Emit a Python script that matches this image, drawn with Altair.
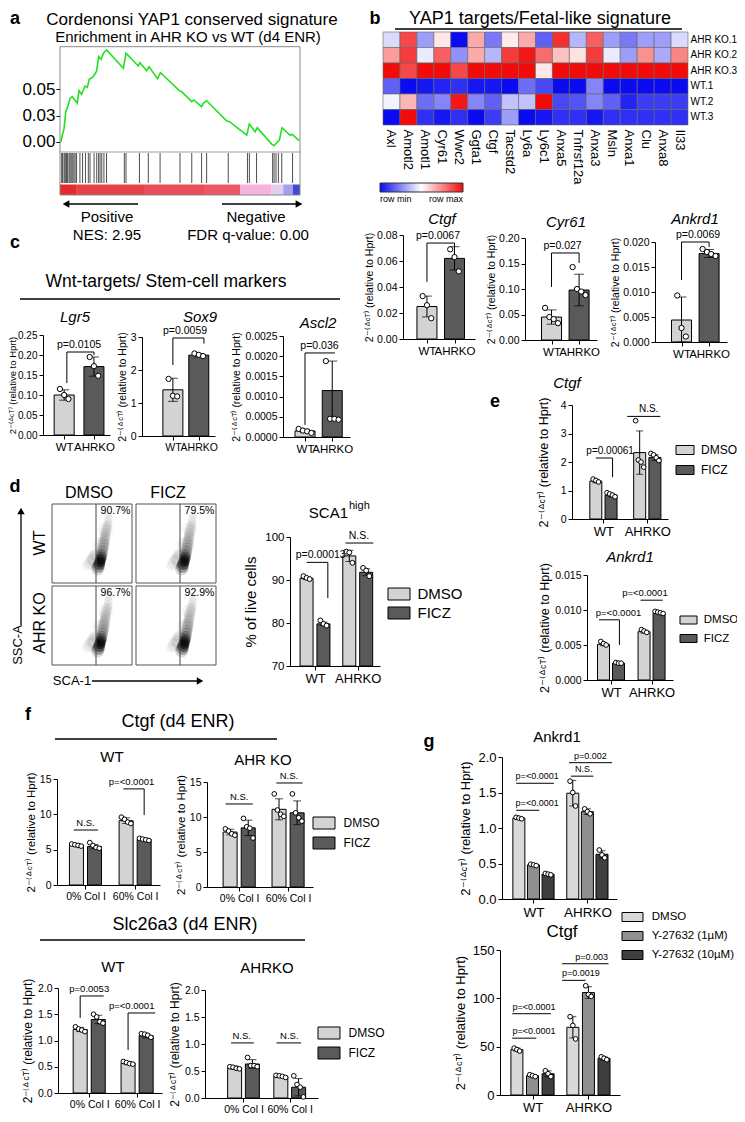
import altair as alt
import pandas as pd

W, H, M = 729, 1106, 8
FONT = "Liberation Sans"
YT = "2⁻⁽ᐞᶜᵀ⁾ (relative to Hprt)"


def px(v):
    return v - M


ONE = pd.DataFrame({"k": [0]})

# ---------------- DATA ----------------
# a: GSEA running enrichment score
gsea_rank = [0.4, 1.0, 1.7, 2.4, 3.2, 4.2, 5.1, 7.2, 7.9, 9.0, 10.4, 11.4, 12.2, 13.5, 14.6,
             15.3, 16.1, 17.1, 18.1, 19.4, 26.4, 27.5, 32.6, 33.3, 36.1, 37.1, 40.6, 41.9, 49.7,
             50.7, 54.9, 55.8, 59.0, 59.7, 61.1, 69.4, 70.6, 77.8, 78.9, 81.3, 82.2, 88.2, 89.2,
             90.3, 91.4, 92.5, 95.8, 96.8, 99.6]
gsea_es = [0.0, 0.0064, 0.0127, 0.0286, 0.0334, 0.0413, 0.0429, 0.0366, 0.0487, 0.0452, 0.0531,
           0.0518, 0.0595, 0.0614, 0.0646, 0.0677, 0.0811, 0.0786, 0.0843, 0.0875, 0.0700, 0.0843,
           0.0722, 0.0754, 0.0677, 0.0716, 0.0601, 0.0658, 0.0487, 0.0477, 0.0382, 0.0398, 0.0334,
           0.0366, 0.0391, 0.0200, 0.0191, 0.0064, 0.0169, 0.0095, 0.0134, -0.0022, -0.0038,
           -0.0010, 0.0016, 0.0134, 0.0064, 0.0070, 0.0010]
gsea_hits = [0.7, 1.1, 1.7, 2.1, 2.5, 2.8, 3.2, 3.8, 4.2, 4.7, 5.3, 5.8, 6.3, 6.9, 8.3, 9.4, 10.6,
             11.8, 12.5, 14.2, 15.3, 16.1, 16.7, 17.4, 18.3, 19.4, 26.8, 27.5, 33.1, 36.8, 41.7,
             50.0, 54.9, 59.0, 61.1, 70.1, 78.1, 78.9, 81.9, 88.6, 89.2, 90.0, 91.0, 92.4, 96.9]
strip_start = [0, 7, 35, 60, 75, 88, 93, 97]
strip_end = [7, 35, 60, 75, 88, 93, 97, 100]
strip_val = [1.0, 0.9, 0.85, 0.8, 0.4, -0.1, -0.5, -0.9]

# b: heatmap
hm_genes = ["Axl", "Amotl2", "Amotl1", "Cyr61", "Wwc2", "Ggta1", "Ctgf", "Tacstd2", "Ly6a",
            "Ly6c1", "Anxa5", "Tnfrsf12a", "Anxa3", "Msln", "Anxa1", "Clu", "Anxa8", "Il33"]
hm_samples = ["AHR KO.1", "AHR KO.2", "AHR KO.3", "WT.1", "WT.2", "WT.3"]
hm_values = [
    [-0.15, 0.75, -0.4, 0.1, -1, 0.35, -0.55, 0.08, 0.35, -0.65, 0.85, -0.3, 0.65, -0.4, -0.55, -0.4, -0.4, -0.15],
    [0.4, 0.8, -0.08, 0.65, -0.45, 0.35, -0.3, 0.8, 0.95, 0.6, 0.25, 0.12, 0.8, -0.08, -0.4, 0.45, -0.35, 0.5],
    [1, 0.75, 1, 1, 0.75, 1, 1, 1, 1, 0.1, 1, 1, 1, 1, 1, 1, 1, 1],
    [-0.65, -1, -0.95, -0.9, -0.85, -0.95, -0.95, -1, -0.6, -0.75, -1, -1, -0.5, -1, -1, -1, -1, -1],
    [-0.05, 0.3, -0.6, -0.5, 0.95, -0.5, -0.65, -0.25, -0.25, 1, -0.75, -0.7, -0.5, -0.65, -0.9, -0.8, -0.8, -0.8],
    [-1, 1, -0.85, -0.95, -0.85, -1, -0.8, -0.4, -1, -0.95, -0.85, -0.85, -0.95, -0.85, -0.85, -0.85, -0.85, -0.85],
]

geno = ["WT", "AHRKO"]
single = ["all"]
trt2 = ["DMSO", "FICZ"]
trt3 = ["DMSO", "Y-27632 (1µM)", "Y-27632 (10µM)"]
col_groups = ["0% Col I", "60% Col I"]

# b qPCR
b_ctgf_mean = [[0.025], [0.062]]
b_ctgf_sd = [[0.008], [0.009]]
b_ctgf_pts = [[[0.033, 0.026, 0.016]], [[0.069, 0.063, 0.052]]]
b_cyr61_mean = [[0.045], [0.098]]
b_cyr61_sd = [[0.014], [0.031]]
b_cyr61_pts = [[[0.063, 0.045, 0.041, 0.033]], [[0.143, 0.100, 0.095, 0.088]]]
b_ankrd1_mean = [[0.0044], [0.0177]]
b_ankrd1_sd = [[0.0046], [0.0008]]
b_ankrd1_pts = [[[0.0093, 0.0028, 0.0011]], [[0.0186, 0.0180, 0.0176, 0.0172]]]

# c qPCR
c_lgr5_mean = [[0.100], [0.171]]
c_lgr5_sd = [[0.013], [0.024]]
c_lgr5_pts = [[[0.115, 0.100, 0.090]], [[0.195, 0.172, 0.148]]]
c_sox9_mean = [[1.40], [2.45]]
c_sox9_sd = [[0.35], [0.05]]
c_sox9_pts = [[[1.73, 1.22, 1.20]], [[2.50, 2.46, 2.42]]]
c_ascl2_mean = [[0.00015], [0.00115]]
c_ascl2_sd = [[0.00004], [0.00073]]
c_ascl2_pts = [[[0.00020, 0.00016, 0.00014, 0.00010]], [[0.00188, 0.00045, 0.00045, 0.00043]]]

# d flow + SCA1 high
flow_pct = ["90.7%", "79.5%", "96.7%", "92.9%"]
blob_sca = [57, 58, 59, 60, 61, 61.5, 62, 63, 63.5, 64, 65, 66, 66.5, 67, 68, 69, 70, 70.5, 71, 48, 44, 52, 54,
            54, 62, 67]
blob_ssc = [18, 21, 24, 27, 30, 33, 36, 40, 44, 48, 52, 56, 60, 64, 68, 72, 76, 81, 86, 26, 22, 30, 36,
            30, 48, 68]
blob_spread = [0.45, 0.4, 0.35, 0.3, 0.3, 0.32, 0.34, 0.34, 0.34, 0.33, 0.32, 0.3, 0.29, 0.28, 0.26, 0.24,
               0.22, 0.2, 0.16, 0.45, 0.3, 0.4, 0.35, 0.8, 0.75, 0.55]
blob_density = [0.15, 0.3, 0.45, 0.55, 0.5, 0.35, 0.25, 0.18, 0.15, 0.13, 0.12, 0.11, 0.1, 0.09, 0.08, 0.07,
                0.06, 0.05, 0.05, 0.06, 0.04, 0.08, 0.07, 0.05, 0.05, 0.04]
sca_mean = [[90.4, 79.8], [95.6, 91.8]]
sca_sd = [[0.3, 0.4], [1.3, 0.8]]
sca_pts = [[[90.9, 90.5, 90.2], [80.6, 79.8, 79.4]], [[96.6, 96.4, 94.0], [92.8, 92.2, 90.9]]]

# e
e_ctgf_mean = [[1.33, 0.84], [2.33, 2.16]]
e_ctgf_sd = [[0.06, 0.06], [0.76, 0.10]]
e_ctgf_pts = [[[1.40, 1.35, 1.30], [0.92, 0.88, 0.84, 0.78]], [[3.45, 2.07, 2.00, 1.82], [2.30, 2.25, 2.15, 2.05]]]
e_ankrd1_mean = [[0.0051, 0.0024], [0.0069, 0.0096]]
e_ankrd1_sd = [[0.0002, 0.0001], [0.0002, 0.0001]]
e_ankrd1_pts = [[[0.0055, 0.0052, 0.0050], [0.0025, 0.0024, 0.0024]], [[0.0072, 0.0070, 0.0068], [0.0098, 0.0097, 0.0096, 0.0095]]]

# f
f_ctgf_wt_mean = [[5.65, 5.45], [9.10, 6.45]]
f_ctgf_wt_sd = [[0.15, 0.30], [0.40, 0.15]]
f_ctgf_wt_pts = [[[5.8, 5.7, 5.6, 5.5], [6.0, 5.6, 5.3, 5.2]], [[9.6, 9.3, 8.9, 8.7], [6.6, 6.5, 6.4, 6.3]]]
f_ctgf_ko_mean = [[7.85, 8.45], [11.1, 10.6]]
f_ctgf_ko_sd = [[0.40, 1.10], [1.50, 1.70]]
f_ctgf_ko_pts = [[[8.3, 8.0, 7.6, 7.4], [9.8, 8.6, 8.4, 7.0]], [[13.3, 11.0, 10.4, 10.1], [13.3, 10.6, 9.9, 9.4]]]
f_slc_wt_mean = [[1.21, 1.40], [0.57, 1.09]]
f_slc_wt_sd = [[0.04, 0.08], [0.03, 0.04]]
f_slc_wt_pts = [[[1.26, 1.22, 1.20, 1.17], [1.50, 1.45, 1.36, 1.33]], [[0.60, 0.58, 0.56, 0.55], [1.13, 1.12, 1.10, 1.06]]]
f_slc_ko_mean = [[0.56, 0.63], [0.40, 0.20]]
f_slc_ko_sd = [[0.03, 0.08], [0.02, 0.16]]
f_slc_ko_pts = [[[0.58, 0.57, 0.55, 0.54], [0.75, 0.60, 0.60, 0.58]], [[0.42, 0.41, 0.40, 0.38], [0.41, 0.25, 0.20, 0.02]]]

# g
g_ankrd1_mean = [[1.14, 0.48, 0.35], [1.49, 1.23, 0.63]]
g_ankrd1_sd = [[0.015, 0.01, 0.01], [0.18, 0.04, 0.05]]
g_ankrd1_pts = [[[1.15, 1.14, 1.13], [0.49, 0.48, 0.47], [0.36, 0.35, 0.34]],
                [[1.66, 1.50, 1.31], [1.27, 1.23, 1.20], [0.69, 0.62, 0.58]]]
g_ctgf_mean = [[47, 20, 22], [70, 106, 38]]
g_ctgf_sd = [[1.5, 1.0, 3.0], [11, 6, 1.5]]
g_ctgf_pts = [[[48.5, 47, 45.5], [21, 20, 19], [25, 22, 19]],
              [[81, 72, 58], [113, 104, 102], [39.5, 38, 36.5]]]

# significance brackets: (x1 slot, x2 slot, level, left-leg end, right-leg end, label, label slot)
br_b_ctgf = [(0, 1, 0.0738, 0.044, 0.0677, "p=0.0067", 0.4)]
br_b_cyr61 = [(0, 1, 0.1706, 0.104, 0.151, "p=0.027", 0.4)]
br_b_ankrd1 = [(0, 1, 0.0200, 0.0124, 0.019, "p=0.0069", 0.6)]
br_c_lgr5 = [(0.09, 1, 0.2075, 0.13, 0.20, "p=0.0105", 0.5)]
br_c_sox9 = [(0, 1.2, 2.97, 2.15, 2.8, "p=0.0059", 0.47)]
br_c_ascl2 = [(0, 1.1, 0.00208, 0.0003, None, "p=0.036", 0.53)]
br_sca = [(0, 1.26, 94.1, None, 85.8, "p=0.00013", 0.84), (2.3, 3.95, 98.6, None, None, "N.S.", 3.1)]
br_e_ctgf = [(0, 1.1, 2.14, None, 1.47, "p=0.00061", 0.94), (2.06, 4.24, 3.6, None, None, "N.S.", 3.47)]
br_e_ankrd1 = [(-0.3, 1.06, 0.0086, None, 0.005, "p=<0.0001", 1.0),
               (2.47, 3.94, 0.0114, None, None, "p=<0.0001", 2.76)]
br_f_ctgf_wt = [(-0.15, 1.2, 7.78, None, None, "N.S.", 0.5), (2.6, 3.75, 13.6, None, 9.9, "p=<0.0001", 3.05)]
br_f_ctgf_ko = [(-0.25, 1.25, 11.86, None, None, "N.S.", 0.5), (2.55, 4.0, 14.86, None, None, "N.S.", 3.25)]
br_f_slc_wt = [(0, 1.3, 1.848, 1.43, None, "p=0.0053", 0.5), (2.65, 4.15, 1.524, 0.82, None, "p=<0.0001", 2.85)]
br_f_slc_ko = [(-0.2, 1.08, 1.02, None, None, "N.S.", 0.4), (2.36, 3.74, 1.02, None, None, "N.S.", 3.08)]
br_g_ankrd1 = [(-0.19, 2.4, 1.63, None, None, "p=<0.0001", 1.25), (-0.19, 1.4, 1.25, None, None, "p=<0.0001", 1.25),
               (3.44, 6.38, 1.92, None, None, "p=0.002", 4.9), (3.56, 5.1, 1.73, None, None, "N.S.", 4.44)]
br_g_ctgf = [(-0.3, 2.18, 84.1, None, None, "p=<0.0001", 1.1), (-0.3, 1.24, 58.8, None, None, "p=<0.0001", 1.1),
             (2.9, 5.88, 135.8, None, None, "p=0.003", 4.8), (2.9, 4.4, 118.6, None, None, "p=0.0019", 4.1)]

LIGHT, DARK = "#d3d3d3", "#5a5a5a"

layers = []


# ---------------- helpers ----------------
def T(s, x, y, size=12, weight="normal", style="normal", angle=0, align="center", baseline="middle"):
    kw = dict(text=s, font=FONT, fontSize=size, fontWeight=weight, fontStyle=style,
              align=align, baseline=baseline, color="black")
    if angle:
        kw["angle"] = angle
    layers.append(alt.Chart(ONE).mark_text(**kw).encode(x=alt.value(px(x)), y=alt.value(px(y))))


def S(x1, y1, x2, y2, w=1.0, color="black"):
    layers.append(alt.Chart(ONE).mark_rule(color=color, strokeWidth=w).encode(
        x=alt.value(px(x1)), y=alt.value(px(y1)), x2=alt.value(px(x2)), y2=alt.value(px(y2))))


def HEAD(x, y, shape, size=55):
    layers.append(alt.Chart(ONE).mark_point(shape=shape, filled=True, color="black", size=size, opacity=1)
                  .encode(x=alt.value(px(x)), y=alt.value(px(y))))


def legend_for(left, cy, w, h, font, spacing):
    entry = max(h + 1, font)
    hw = w / h
    return alt.Legend(orient="none", legendX=px(left), legendY=px(cy - entry / 2), title=None,
                      symbolType=f"M{-hw:.3f},-1H{hw:.3f}V1H{-hw:.3f}Z", symbolSize=h * h,
                      symbolOffset=w / 2 - entry / 2, labelOffset=w - entry + 4,
                      symbolStrokeColor="black", symbolStrokeWidth=1, symbolOpacity=1,
                      labelFontSize=font, labelFont=FONT, labelColor="black",
                      rowPadding=spacing - entry, padding=0)


def bar_panel(groups, treats, colors, means, sds, pts, brackets, L, by="treat", leg=None):
    nT = len(treats)
    step = nT + L["gap"]
    y_lo = L["ydom"][0]
    rows, prow = [], []
    for gi, g in enumerate(groups):
        for ti, t in enumerate(treats):
            s = gi * step + ti
            m = means[gi][ti]
            sd = sds[gi][ti]
            rows.append({"slot": s, "mean": m, "lo": max(m - sd, y_lo), "hi": m + sd,
                         "key": g if by == "group" else t})
            vals = pts[gi][ti]
            n = len(vals)
            for i, v in enumerate(vals):
                prow.append({"slot": s + (i - (n - 1) / 2) * L["jit"] / L["d"], "v": v})
    bdf = pd.DataFrame(rows)
    pdf = pd.DataFrame(prow)
    keys = groups if by == "group" else treats
    xs = alt.Scale(domain=[(L["xa"] - L["c0"]) / L["d"], (L["xb"] - L["c0"]) / L["d"]],
                   range=[px(L["xa"]), px(L["xb"])], nice=False, zero=False)
    ys = alt.Scale(domain=L["ydom"], range=[px(L["y0"]), px(L["y1"])], nice=False, zero=False)
    centers = [gi * step + (nT - 1) / 2 for gi in range(len(groups))]
    mid = (centers[0] + centers[1]) / 2
    expr = f"datum.value < {mid} ? '{groups[0]}' : '{groups[1]}'"
    xaxis = alt.Axis(orient="bottom", offset=px(L["y0"]) - H, values=centers, labelExpr=expr, title=None,
                     tickSize=4, labelFontSize=L["xfs"], labelPadding=2, labelFlush=False,
                     labelOverlap=False, grid=False)
    yaxis = alt.Axis(orient="left", offset=-px(L["xa"]), values=L["ticks"], format=L["fmt"],
                     title=L.get("ytitle", YT), titleFontSize=L["tfs"], titlePadding=L.get("tp", 3),
                     titleFontWeight="normal", labelFontSize=L["yfs"], tickSize=4, labelPadding=2,
                     labelOverlap=False, labelFlush=False, grid=False)
    # secondary layers carry no axis spec: they merge into the explicit axes of the bar layer
    bx = alt.X("slot:Q", scale=xs)
    bars = alt.Chart(bdf).mark_bar(orient="vertical", width=L["bw"], stroke="black", strokeWidth=1).encode(
        x=alt.X("slot:Q", scale=xs, axis=xaxis),
        y=alt.Y("mean:Q", scale=ys, axis=yaxis),
        y2=alt.datum(y_lo),
        color=alt.Color("key:N", scale=alt.Scale(domain=keys, range=colors),
                        legend=leg if leg is not None else None))
    err = alt.Chart(bdf).mark_rule(color="black", strokeWidth=1).encode(
        x=bx, y=alt.Y("lo:Q", scale=ys), y2="hi:Q")
    caps = alt.Chart(bdf).transform_fold(["lo", "hi"], as_=["w", "cv"]).mark_tick(
        orient="horizontal", size=L["cap"], thickness=1, color="black").encode(
        x=bx, y=alt.Y("cv:Q", scale=ys))
    dots = alt.Chart(pdf).mark_circle(size=L["ps"], fill="white", stroke="black", strokeWidth=1,
                                      opacity=1).encode(x=bx, y=alt.Y("v:Q", scale=ys))
    parts = [bars, err, caps, dots]
    brows, legs = [], []
    for (x1, x2, yv, ll, rl, lab, tx) in brackets:
        brows.append({"x1": x1, "x2": x2, "y": yv, "lab": lab, "tx": tx})
        if ll is not None:
            legs.append({"x": x1, "y": yv, "y2": ll})
        if rl is not None:
            legs.append({"x": x2, "y": yv, "y2": rl})
    brdf = pd.DataFrame(brows)
    parts.append(alt.Chart(brdf).mark_rule(color="black", strokeWidth=1).encode(
        x=alt.X("x1:Q", scale=xs), x2="x2:Q", y=alt.Y("y:Q", scale=ys)))
    if legs:
        parts.append(alt.Chart(pd.DataFrame(legs)).mark_rule(color="black", strokeWidth=1).encode(
            x=alt.X("x:Q", scale=xs), y=alt.Y("y:Q", scale=ys), y2="y2:Q"))
    parts.append(alt.Chart(brdf).mark_text(font=FONT, fontSize=L["pfs"], baseline="bottom", dy=-2,
                                           color="black").encode(
        x=alt.X("tx:Q", scale=xs), y=alt.Y("y:Q", scale=ys), text="lab:N"))
    layers.append(alt.layer(*parts))


# ---------------- panel a ----------------
a_xs = alt.Scale(domain=[0, 100], range=[px(60), px(300)], nice=False, zero=False)
a_ys = alt.Scale(domain=[-0.0095, 0.0906], range=[px(151.7), px(46.7)], nice=False, zero=False)
gdf = pd.DataFrame({"r": gsea_rank, "es": gsea_es})
hdf = pd.DataFrame({"h": gsea_hits})
sdf = pd.DataFrame({"s": strip_start, "e": strip_end, "v": strip_val})
a_line = alt.Chart(gdf).mark_line(color="#22e022", strokeWidth=1.6).encode(
    x=alt.X("r:Q", scale=a_xs, axis=None),
    y=alt.Y("es:Q", scale=a_ys, axis=alt.Axis(orient="left", offset=-px(60), values=[0, 0.025, 0.05],
                                              format=".2f", labelFontSize=17, tickSize=4, domain=False,
                                              title=None, grid=False, labelOverlap=False, labelPadding=1)))
a_hits = alt.Chart(hdf).mark_rule(color="#222", strokeWidth=0.8).encode(
    x=alt.X("h:Q", scale=a_xs, axis=None), y=alt.value(px(153)), y2=alt.value(px(183)))
a_strip = alt.Chart(sdf).mark_rect().encode(
    x=alt.X("s:Q", scale=a_xs, axis=None), x2="e:Q", y=alt.value(px(184.5)), y2=alt.value(px(195)),
    color=alt.Color("v:Q", scale=alt.Scale(domain=[-1, -0.4, 0, 0.4, 1],
                                           range=["#3030d0", "#b8b8f0", "#f4d4ee", "#f6b4dc", "#e42a2a"],
                                           interpolate="rgb"), legend=None))
layers.append(alt.layer(a_line, a_hits, a_strip))
layers.append(alt.Chart(ONE).mark_rect(fill="transparent", stroke="#888", strokeWidth=1).encode(
    x=alt.value(px(60)), x2=alt.value(px(300)), y=alt.value(px(46.7)), y2=alt.value(px(195))))
S(60, 152, 300, 152, 0.8, "#888")
T("a", 15, 19, 18, weight="bold")
T("Cordenonsi YAP1 conserved signature", 192, 20, 17)
T("Enrichment in AHR KO vs WT (d4 ENR)", 188, 37, 15)
S(68, 204, 138, 204, 1.5)
HEAD(66, 204, "triangle-left", 60)
S(222, 204, 296, 204, 1.5)
HEAD(299, 204, "triangle-right", 60)
T("Positive", 107, 217, 15)
T("NES: 2.95", 107, 235, 15)
T("Negative", 256, 217, 15)
T("FDR q-value: 0.00", 248, 235, 15)

# ---------------- panel b heatmap ----------------
hm_rows = []
for si, s in enumerate(hm_samples):
    for gi, g in enumerate(hm_genes):
        hm_rows.append({"gene": g, "sample": s, "v": hm_values[si][gi]})
hm = alt.Chart(pd.DataFrame(hm_rows)).mark_rect(stroke="#666", strokeWidth=0.6).encode(
    x=alt.X("gene:N", sort=hm_genes,
            scale=alt.Scale(domain=hm_genes, range=[px(383), px(688)], paddingInner=0, paddingOuter=0),
            axis=alt.Axis(orient="bottom", offset=px(125) - H, labelAngle=90, labelAlign="left",
                          labelBaseline="middle", ticks=False, domain=False, labelFontSize=13,
                          labelPadding=4, title=None, grid=False, labelOverlap=False)),
    y=alt.Y("sample:N", sort=hm_samples,
            scale=alt.Scale(domain=hm_samples, range=[px(32), px(125)], paddingInner=0, paddingOuter=0),
            axis=alt.Axis(orient="right", offset=px(688) - W, ticks=False, domain=False, labelFontSize=10,
                          labelPadding=2, title=None, grid=False, labelOverlap=False)),
    color=alt.Color("v:Q", scale=alt.Scale(domain=[-1, 0, 1], range=["#0b0bf2", "#ffffff", "#f20b0b"],
                                           interpolate="rgb"),
                    legend=alt.Legend(orient="none", legendX=px(380), legendY=px(183), direction="horizontal",
                                      gradientLength=83, gradientThickness=9, title=None, values=[-1, 1],
                                      labelExpr="datum.value < 0 ? 'row min' : 'row max'",
                                      labelFontSize=9, labelFont=FONT, gradientStrokeColor="#333",
                                      gradientStrokeWidth=1, labelOffset=3, padding=0)))
layers.append(hm)
T("b", 375, 19, 18, weight="bold")
T("YAP1 targets/Fetal-like signature", 540, 19, 18)
S(395, 29, 682, 29, 1.5)

# ---------------- panel b qPCR ----------------
base_b = dict(d=32, gap=0, bw=20, cap=10, jit=5, ps=28, xfs=11.5, yfs=10.5, tfs=10.5, pfs=10.5, tp=2)
bar_panel(geno, single, [LIGHT, DARK], b_ctgf_mean, b_ctgf_sd, b_ctgf_pts, br_b_ctgf,
          dict(base_b, c0=425, xa=403, xb=475, ydom=[0, 0.08], y0=339, y1=235,
               ticks=[0, 0.02, 0.04, 0.06, 0.08], fmt=".2f"), by="group")
bar_panel(geno, single, [LIGHT, DARK], b_cyr61_mean, b_cyr61_sd, b_cyr61_pts, br_b_cyr61,
          dict(base_b, c0=550, xa=525, xb=597, ydom=[0, 0.2], y0=340, y1=238,
               ticks=[0, 0.05, 0.1, 0.15, 0.2], fmt=".2f"), by="group")
bar_panel(geno, single, [LIGHT, DARK], b_ankrd1_mean, b_ankrd1_sd, b_ankrd1_pts, br_b_ankrd1,
          dict(base_b, c0=680, xa=655, xb=727, ydom=[0, 0.02], y0=342, y1=242,
               ticks=[0, 0.005, 0.01, 0.015, 0.02], fmt=".3f"), by="group")
T("Ctgf", 442, 219, 15, style="italic")
T("Cyr61", 566, 222, 15, style="italic")
T("Ankrd1", 695, 219, 15, style="italic")

# ---------------- panel c ----------------
T("c", 15, 243, 18, weight="bold")
T("Wnt-targets/ Stem-cell markers", 166, 282, 17.5)
S(20, 299, 340, 299, 1.5)
base_c = dict(gap=0, bw=20, cap=10, jit=5, ps=28, xfs=11.5, yfs=10.5, tfs=10.5, pfs=10.5, tp=3)
bar_panel(geno, single, [LIGHT, DARK], c_lgr5_mean, c_lgr5_sd, c_lgr5_pts, br_c_lgr5,
          dict(base_c, c0=62, d=35, xa=43, xb=110, ydom=[0, 0.25], y0=435, y1=335,
               ticks=[0, 0.05, 0.1, 0.15, 0.2, 0.25], fmt=".2f", yfs=10, tfs=9.5, tp=0), by="group")
bar_panel(geno, single, [LIGHT, DARK], c_sox9_mean, c_sox9_sd, c_sox9_pts, br_c_sox9,
          dict(base_c, c0=172, d=30, xa=142, xb=215, ydom=[0, 3], y0=436, y1=337,
               ticks=[0, 1, 2, 3], fmt="d", xfs=10.5), by="group")
bar_panel(geno, single, [LIGHT, DARK], c_ascl2_mean, c_ascl2_sd, c_ascl2_pts, br_c_ascl2,
          dict(base_c, c0=303, d=32, xa=283, xb=350, ydom=[0, 0.0025], y0=437, y1=336,
               ticks=[0, 0.0005, 0.001, 0.0015, 0.002, 0.0025], fmt=".4f"), by="group")
T("Lgr5", 75, 317, 15, style="italic")
T("Sox9", 200, 317, 15, style="italic")
T("Ascl2", 318, 323, 15, style="italic")

# ---------------- panel d flow ----------------
T("d", 15, 487, 18, weight="bold")
T("DMSO", 89, 493, 16)
T("FICZ", 168, 493, 16)
T("WT", 40, 543, 16, angle=270)
T("AHR KO", 40, 623, 16, angle=270)
T("SSC-A", 18, 645, 13, angle=270)
S(21, 625, 21, 514, 1.3)
HEAD(21, 511, "triangle-up", 55)
T("SCA-1", 72, 681, 13)
S(92, 681, 197, 681, 1.3)
HEAD(200, 681, "triangle-right", 55)

boxes = [(52, 504, 132, 583), (136, 504, 216, 583), (52, 586, 132, 665), (136, 586, 216, 665)]
blob = pd.DataFrame({"sca": blob_sca, "ssc": blob_ssc, "w": blob_spread, "dens": blob_density})
for bi, (x0, y0, x1, y1) in enumerate(boxes):
    fxs = alt.Scale(domain=[0, 100], range=[px(x0), px(x1)], nice=False, zero=False)
    fys = alt.Scale(domain=[0, 100], range=[px(y1), px(y0)], nice=False, zero=False)
    fdf = pd.DataFrame({"lo": [0], "hi": [100], "gate": [55], "tx": [98], "ty": [97], "pct": [flow_pct[bi]]})
    fb = alt.Chart(blob).mark_circle(color="black").encode(
        x=alt.X("sca:Q", scale=fxs, axis=None), y=alt.Y("ssc:Q", scale=fys, axis=None),
        size=alt.Size("w:Q", scale=alt.Scale(domain=[0, 1], range=[0, 400]), legend=None),
        opacity=alt.Opacity("dens:Q", scale=alt.Scale(domain=[0, 1], range=[0, 1]), legend=None))
    fr = alt.Chart(fdf).mark_rect(fill="transparent", stroke="#555", strokeWidth=1).encode(
        x=alt.X("lo:Q", scale=fxs, axis=None), x2="hi:Q", y=alt.Y("lo:Q", scale=fys, axis=None), y2="hi:Q")
    fg = alt.Chart(fdf).mark_rule(color="#444", strokeWidth=1).encode(
        x=alt.X("gate:Q", scale=fxs, axis=None), y=alt.Y("lo:Q", scale=fys, axis=None), y2="hi:Q")
    ft = alt.Chart(fdf).mark_text(font=FONT, fontSize=10.5, align="right", baseline="top", color="black").encode(
        x=alt.X("tx:Q", scale=fxs, axis=None), y=alt.Y("ty:Q", scale=fys, axis=None), text="pct:N")
    layers.append(alt.layer(fb, fr, fg, ft))

bar_panel(geno, trt2, [LIGHT, DARK], sca_mean, sca_sd, sca_pts, br_sca,
          dict(c0=303, d=19, gap=0.53, xa=290, xb=380, ydom=[70, 100], y0=666, y1=537,
               ticks=[70, 80, 90, 100], fmt="d", bw=13, cap=8, jit=3.5, ps=24, xfs=13, yfs=11.5,
               tfs=15, pfs=10.5, tp=6, ytitle="% of live cells"),
          leg=legend_for(388, 594, 22, 12, 15, 17))
T("SCA1", 348, 518, 15, align="right", baseline="alphabetic")
T("high", 349, 509, 11, align="left", baseline="alphabetic")

# ---------------- panel e ----------------
T("e", 495, 402, 18, weight="bold")
T("Ctgf", 567, 383, 15, style="italic")
T("Ankrd1", 630, 557, 15, style="italic")
bar_panel(geno, trt2, [LIGHT, DARK], e_ctgf_mean, e_ctgf_sd, e_ctgf_pts, br_e_ctgf,
          dict(c0=593, d=17, gap=0.88, xa=572, xb=668, ydom=[0, 4], y0=519, y1=405,
               ticks=[0, 1, 2, 3, 4], fmt="d", bw=12, cap=7, jit=3, ps=22, xfs=13, yfs=10.5,
               tfs=12.5, pfs=10, tp=10),
          leg=legend_for(676, 450, 18, 9, 12, 18))
bar_panel(geno, trt2, [LIGHT, DARK], e_ankrd1_mean, e_ankrd1_sd, e_ankrd1_pts, br_e_ankrd1,
          dict(c0=600, d=17, gap=0.7, xa=587, xb=673, ydom=[0, 0.015], y0=680, y1=575,
               ticks=[0, 0.005, 0.01, 0.015], fmt=".3f", bw=12, cap=7, jit=3, ps=22, xfs=13, yfs=10.5,
               tfs=12.5, pfs=9.5, tp=3),
          leg=legend_for(680, 620, 17, 8, 11.5, 17))

# ---------------- panel f ----------------
T("f", 28, 715, 18, weight="bold")
T("Ctgf (d4 ENR)", 178, 722, 18)
S(55, 739, 277, 739, 1.5)
T("WT", 112, 757, 15)
T("AHR KO", 263, 760, 15)
T("Slc26a3 (d4 ENR)", 185, 925, 18)
S(40, 940, 305, 940, 1.5)
T("WT", 113, 967, 15)
T("AHRKO", 267, 968, 15)
base_f = dict(d=20, bw=14, cap=8, jit=3.5, ps=22, xfs=10.5, yfs=10.5, tfs=11.5, pfs=9.5, tp=3)
bar_panel(col_groups, trt2, [LIGHT, DARK], f_ctgf_wt_mean, f_ctgf_wt_sd, f_ctgf_wt_pts, br_f_ctgf_wt,
          dict(base_f, c0=73, gap=0.75, xa=57, xb=160, ydom=[0, 15], y0=885, y1=779,
               ticks=[0, 5, 10, 15], fmt="d"))
bar_panel(col_groups, trt2, [LIGHT, DARK], f_ctgf_ko_mean, f_ctgf_ko_sd, f_ctgf_ko_pts, br_f_ctgf_ko,
          dict(base_f, c0=227, gap=0.7, xa=207, xb=313, ydom=[0, 15], y0=887, y1=782,
               ticks=[0, 5, 10, 15], fmt="d"),
          leg=legend_for(313, 823, 22, 12, 12, 16))
bar_panel(col_groups, trt2, [LIGHT, DARK], f_slc_wt_mean, f_slc_wt_sd, f_slc_wt_pts, br_f_slc_wt,
          dict(base_f, c0=77, gap=0.65, xa=58, xb=162, ydom=[0, 2], y0=1093, y1=988,
               ticks=[0, 0.5, 1, 1.5, 2], fmt=".1f", tfs=12))
bar_panel(col_groups, trt2, [LIGHT, DARK], f_slc_ko_mean, f_slc_ko_sd, f_slc_ko_pts, br_f_slc_ko,
          dict(base_f, c0=232, d=19.5, gap=0.6, xa=205, xb=318, ydom=[0, 2], y0=1098, y1=990,
               ticks=[0, 0.5, 1, 1.5, 2], fmt=".1f", tfs=12),
          leg=legend_for(318, 1033, 22, 12, 12, 16))

# ---------------- panel g ----------------
T("g", 429, 742, 18, weight="bold")
T("Ankrd1", 557, 737, 15)
T("Ctgf", 562, 932, 17)
G3 = ["#d9d9d9", "#8f8f8f", "#3f3f3f"]
base_g = dict(bw=12, cap=7, jit=3, ps=22, xfs=13.5, yfs=13, tfs=13, pfs=9, tp=5)
bar_panel(geno, trt3, G3, g_ankrd1_mean, g_ankrd1_sd, g_ankrd1_pts, br_g_ankrd1,
          dict(base_g, c0=515, d=16, gap=0.69, xa=502, xb=617, ydom=[0, 2], y0=899, y1=757,
               ticks=[0, 0.5, 1, 1.5, 2], fmt=".1f"),
          leg=legend_for(622, 917, 21, 9, 11.5, 16.5))
bar_panel(geno, trt3, G3, g_ctgf_mean, g_ctgf_sd, g_ctgf_pts, br_g_ctgf,
          dict(base_g, c0=513, d=17, gap=0.59, xa=500, xb=620, ydom=[0, 150], y0=1095, y1=950,
               ticks=[0, 50, 100, 150], fmt="d", xfs=13))

chart = alt.layer(*layers).resolve_scale(
    x="independent", y="independent", color="independent", size="independent", opacity="independent"
).resolve_axis(
    x="independent", y="independent"
).resolve_legend(
    color="independent", size="independent", opacity="independent"
).properties(
    width=W, height=H, autosize=alt.AutoSizeParams(type="none"), padding=0
).configure_view(stroke=None).configure_axis(
    labelFont=FONT, titleFont=FONT, labelColor="black", titleColor="black", domainColor="black",
    tickColor="black", grid=False, titleFontWeight="normal"
).configure_legend(labelFont=FONT, labelColor="black")

chart.save("out.html", embed_options={"renderer": "svg", "actions": False})
